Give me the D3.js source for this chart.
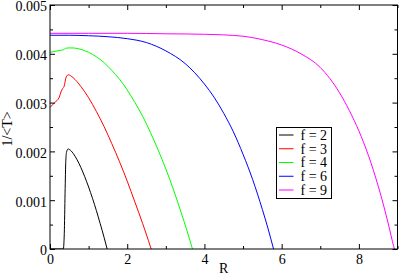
<!DOCTYPE html>
<html>
<head>
<meta charset="utf-8">
<script src="https://cdn.jsdelivr.net/npm/d3@7"></script>
<style>
  html, body { margin: 0; padding: 0; background: #fff; }
  svg { display: block; }
  text { font-family: "Liberation Serif", "Times New Roman", serif; fill: #000; }
</style>
</head>
<body>
<svg id="chart" width="399" height="277"></svg>
<script>
// ---- data ----
const seriesNames = ["f = 2", "f = 3", "f = 4", "f = 6", "f = 9"];
const seriesColors = ["#000000", "#ff0000", "#00ff00", "#0000ff", "#ff00ff"];

const f2R = [0, 0.33, 0.345, 0.37, 0.39, 0.41, 0.43, 0.47, 0.5, 0.6, 0.7, 0.8, 0.9, 1.0, 1.1, 1.2, 1.3, 1.4, 1.48];
const f2V = [0, 0, 0, 0.00032, 0.00114, 0.00182, 0.00199, 0.00205, 0.00204, 0.00196, 0.00183, 0.00167, 0.00148, 0.00127, 0.00104, 0.00079, 0.00052, 0.00024, 0];

const f3R = [0, 0.12, 0.24, 0.285, 0.33, 0.365, 0.41, 0.47, 0.6, 0.8, 1.0, 1.2, 1.4, 1.6, 1.8, 2.0, 2.2, 2.4, 2.55, 2.62];
const f3V = [0.0029, 0.0030, 0.00311, 0.00322, 0.00329, 0.00333, 0.00350, 0.00357, 0.00351, 0.00333, 0.00310, 0.00282, 0.00251, 0.00216, 0.00179, 0.00139, 0.00096, 0.00052, 0.00017, 0];

const f4R = [0, 0.13, 0.26, 0.34, 0.40, 0.47, 0.6, 0.8, 1.0, 1.2, 1.4, 1.6, 1.8, 2.0, 2.2, 2.4, 2.6, 2.8, 3.0, 3.2, 3.4, 3.55, 3.69];
const f4V = [0.00403, 0.00405, 0.00407, 0.00408, 0.00411, 0.00412, 0.00412, 0.00409, 0.00403, 0.00394, 0.00382, 0.00366, 0.00348, 0.00326, 0.00300, 0.00272, 0.00239, 0.00203, 0.00164, 0.00121, 0.00074, 0.00037, 0];

const f6R = [0, 0.5, 1.0, 1.5, 2.0, 2.5, 3.0, 3.5, 4.0, 4.25, 4.5, 4.75, 5.0, 5.25, 5.5, 5.65, 5.79];
const f6V = [0.00438, 0.00438, 0.00437, 0.00435, 0.00431, 0.00423, 0.00406, 0.00380, 0.00338, 0.00311, 0.00278, 0.00240, 0.00194, 0.00142, 0.00081, 0.00041, 0];

const f9R = [0, 1, 2, 3, 4, 5, 5.5, 6, 6.5, 7, 7.5, 7.75, 8, 8.25, 8.5, 8.7, 8.8, 8.87, 8.92];
const f9V = [0.00442, 0.00442, 0.00442, 0.00441, 0.00440, 0.00436, 0.00429, 0.00418, 0.00400, 0.00372, 0.00320, 0.00284, 0.00242, 0.00191, 0.00129, 0.00071, 0.00039, 0.00015, 0];

const seriesR = [f2R, f3R, f4R, f6R, f9R];
const seriesV = [f2V, f3V, f4V, f6V, f9V];

const xMajor = [0, 2, 4, 6, 8];
const xMinor = [1, 3, 5, 7, 9];
const yMajor = [0, 0.001, 0.002, 0.003, 0.004, 0.005];
const yMinor = [0.0005, 0.0015, 0.0025, 0.0035, 0.0045];
const yTickLabels = ["0", "0.001", "0.002", "0.003", "0.004", "0.005"];
const xTickLabels = ["0", "2", "4", "6", "8"];

// ---- layout ----
const L = 50, R = 397.5, T = 5, B = 249;
const svg = d3.select("#chart");
const x = d3.scaleLinear().domain([0, 9]).range([L, R]);
const y = d3.scaleLinear().domain([0, 0.005]).range([B, T]);

svg.append("defs").append("clipPath").attr("id", "clip")
  .append("rect").attr("x", L).attr("y", T).attr("width", R - L).attr("height", B - T);

// curves
const line = d3.line().x(d => x(d[0])).y(d => y(d[1])).curve(d3.curveMonotoneX);
const gLines = svg.append("g").attr("clip-path", "url(#clip)");
seriesR.forEach((rs, i) => {
  const pts = rs.map((r, j) => [r, seriesV[i][j]]);
  gLines.append("path").attr("d", line(pts))
    .attr("fill", "none").attr("stroke", seriesColors[i]).attr("stroke-width", 1);
});

// axes (ticks inward on all sides)
const fs = 14;
const axB = svg.append("g").attr("transform", `translate(0,${B})`)
  .call(d3.axisBottom(x).tickValues(xMajor).tickSize(-5).tickFormat((d, i) => xTickLabels[i]));
const axBm = svg.append("g").attr("transform", `translate(0,${B})`)
  .call(d3.axisBottom(x).tickValues(xMinor).tickSize(-3).tickFormat(""));
const axT = svg.append("g").attr("transform", `translate(0,${T})`)
  .call(d3.axisTop(x).tickValues(xMajor).tickSize(-5).tickFormat(""));
const axTm = svg.append("g").attr("transform", `translate(0,${T})`)
  .call(d3.axisTop(x).tickValues(xMinor).tickSize(-3).tickFormat(""));
const axL = svg.append("g").attr("transform", `translate(${L},0)`)
  .call(d3.axisLeft(y).tickValues(yMajor).tickSize(-5).tickFormat((d, i) => yTickLabels[i]));
const axLm = svg.append("g").attr("transform", `translate(${L},0)`)
  .call(d3.axisLeft(y).tickValues(yMinor).tickSize(-3).tickFormat(""));
const axR = svg.append("g").attr("transform", `translate(${R},0)`)
  .call(d3.axisRight(y).tickValues(yMajor).tickSize(-5).tickFormat(""));
const axRm = svg.append("g").attr("transform", `translate(${R},0)`)
  .call(d3.axisRight(y).tickValues(yMinor).tickSize(-3).tickFormat(""));

[axB, axBm, axT, axTm, axL, axLm, axR, axRm].forEach(g => {
  g.attr("font-family", null);
  g.select(".domain").remove();
  g.selectAll("line").attr("stroke", "#000");
  g.selectAll("text").attr("font-size", fs).attr("fill", "#000");
});
axB.selectAll("text").attr("y", 5).attr("dy", "0.71em");
axL.selectAll("text").attr("x", -3).attr("dy", "0.42em");

// frame
svg.append("rect").attr("x", L).attr("y", T).attr("width", R - L).attr("height", B - T)
  .attr("fill", "none").attr("stroke", "#000").attr("stroke-width", 1);

// axis titles
svg.append("text").attr("x", (L + R) / 2).attr("y", 273).attr("text-anchor", "middle")
  .attr("font-size", fs).text("R");
svg.append("text").attr("transform", `translate(11.5,${(T + B) / 2 + 2}) rotate(-90)`)
  .attr("text-anchor", "middle").attr("font-size", fs).text("1/<T>");

// legend
const lg = svg.append("g");
lg.append("rect").attr("x", 276.5).attr("y", 127.5).attr("width", 55).attr("height", 71)
  .attr("fill", "#fff").attr("stroke", "#000").attr("stroke-width", 1);
seriesNames.forEach((n, i) => {
  const cy = 135 + i * 13.75;
  lg.append("line").attr("x1", 279).attr("x2", 293.5).attr("y1", cy).attr("y2", cy)
    .attr("stroke", seriesColors[i]).attr("stroke-width", 1);
  lg.append("text").attr("x", 300.5).attr("y", cy).attr("dy", "0.35em")
    .attr("font-size", fs).text(n);
});
</script>
</body>
</html>
